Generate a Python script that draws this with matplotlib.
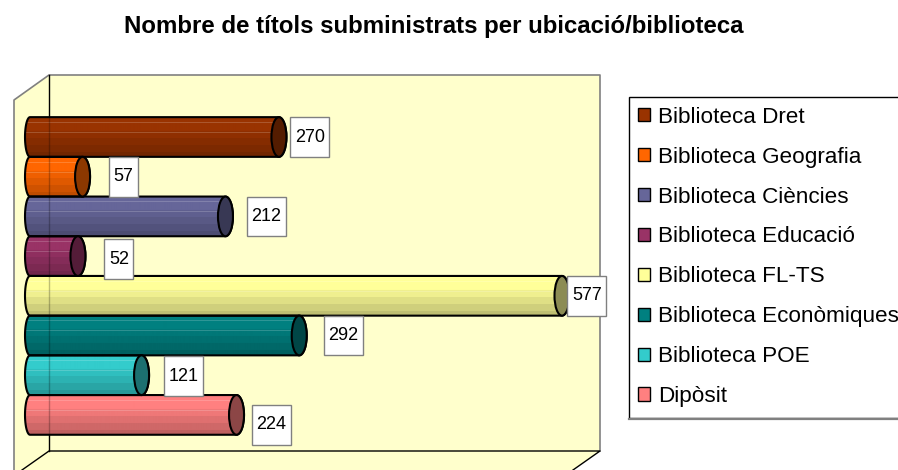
import numpy as np
import matplotlib
matplotlib.use('Agg')
import matplotlib.pyplot as plt
from matplotlib.patches import Polygon, Rectangle, Ellipse, Patch

plt.rcParams['font.family'] = ['Liberation Sans', 'DejaVu Sans']

title = 'Nombre de títols subministrats per ubicació/biblioteca'
names = ['Biblioteca Dret', 'Biblioteca Geografia', 'Biblioteca Ciències', 'Biblioteca Educació',
         'Biblioteca FL-TS', 'Biblioteca Econòmiques', 'Biblioteca POE', 'Dipòsit']
values = [270, 57, 212, 52, 577, 292, 121, 224]
colors = ['#993300', '#FF6600', '#666699', '#993366', '#FFFF99', '#008080', '#33CCCC', '#FF8080']

# where the value boxes sit relative to the bar end, in pixels
label_gap = [4, 19, 14, 19, -2, 17, 15, 8]
label_shift = [0, 0, 0, 3, 0, 0, 1, 10]

W, H = 898, 470
X0, X_SCALE = 30.0, 0.922   # pixel of value 0, pixels per value
Y0, Y_STEP = 137.0, 39.7    # pixel of first bar centre, pixels per bar
CAP = 7.5 / X_SCALE         # cap half width in data units
LEFT_CAP = 5.0 / X_SCALE


def shade(color, top=1.0, bottom=0.74):
    # banded vertical gradient with the two pale stripes
    rgb = np.array(matplotlib.colors.to_rgb(color))
    rows = 40
    f = np.concatenate([np.full(10, top), np.linspace(top, bottom, rows - 10)])
    f = np.round(f * 16) / 16
    img = np.clip(rgb[None, :] * f[:, None], 0, 1)
    for r in (5, 15):
        img[r] = img[r] * 0.82 + 0.18
    return img[:, None, :]


fig = plt.figure(figsize=(W / 100, H / 100), dpi=100)

# chart walls and legend box, in pixels
bg = fig.add_axes([0, 0, 1, 1])
bg.set_xlim(0, W)
bg.set_ylim(H, 0)
bg.axis('off')
wall = '#FFFFCC'
bg.add_patch(Rectangle((49, 75), 551, 376, fc=wall, ec='none'))
bg.add_patch(Polygon([(14, 100), (49, 75), (49, 451), (14, 476)], fc=wall, ec='none'))
bg.add_patch(Polygon([(49, 451), (600, 451), (565, 476), (14, 476)], fc=wall, ec='none'))
bg.plot([14, 14, 49, 600, 600], [476, 100, 75, 75, 451], color='#808080', lw=1.2)
bg.plot([49, 49], [75, 451], color='black', lw=1)
bg.plot([22, 49, 600, 573], [470, 451, 451, 470], color='black', lw=1)
bg.add_patch(Rectangle((629, 97), 300, 321, fc='white', ec='black', lw=1))
bg.plot([629, 898], [418.5, 418.5], color='#808080', lw=1.6)
bg.text(434, 26, title, ha='center', va='center', fontsize=17.3, fontweight='bold')

# bars
ax = fig.add_axes([0, 0, 1, 1], facecolor='none')
xlim = (-X0 / X_SCALE, (W - X0) / X_SCALE)
ylim = ((H - Y0) / Y_STEP, -Y0 / Y_STEP)
ax.axis('off')
y = np.arange(len(values))
bars = ax.barh(y, values, height=1.0, color=colors, edgecolor='none', zorder=1)

t = np.linspace(-np.pi / 2, np.pi / 2, 30)
for i, (bar, v, c) in enumerate(zip(bars, values, colors)):
    xs = np.concatenate([-LEFT_CAP * np.cos(t), v + CAP * np.cos(t[::-1])])
    ys = np.concatenate([i + 0.5 * np.sin(t), i + 0.5 * np.sin(t[::-1])])
    body = Polygon(np.column_stack([xs, ys]), fc='none', ec='black', lw=1.5, zorder=3)
    ax.add_patch(body)
    im = ax.imshow(shade(c), extent=(-LEFT_CAP, v + CAP, i + 0.5, i - 0.5), aspect='auto', zorder=2)
    im.set_clip_path(body)
    # wall line seen through the bar
    ax.plot([19 / X_SCALE] * 2, [i - 0.5, i + 0.5], color='black', alpha=0.25, lw=1, zorder=2.5)
    ax.add_patch(Ellipse((v, i), 2 * CAP, 1.0, fc=np.array(matplotlib.colors.to_rgb(c)) * 0.55,
                         ec='black', lw=1.5, zorder=4))

    box_w = (39 if v >= 100 else 29) / X_SCALE
    bx = v + CAP + label_gap[i] / X_SCALE
    by = i - 0.5 + label_shift[i] / Y_STEP
    ax.add_patch(Rectangle((bx, by), box_w, 1.0, fc='white', ec='#808080', lw=1, zorder=5))
    ax.text(bx + box_w / 2, by + 0.5, str(v), ha='center', va='center', fontsize=13, zorder=6)

ax.set_xlim(xlim)
ax.set_ylim(ylim)

handles = [Patch(fc=c, ec='black', lw=1) for c in colors]
fig.legend(handles, names, loc='upper left', bbox_to_anchor=(631 / W, 1 - 100 / H), frameon=False,
           fontsize=16.2, handlelength=0.53, handleheight=0.53, handletextpad=0.36,
           labelspacing=0.84, borderpad=0.3, borderaxespad=0)

fig.savefig('out.png', dpi=100)
